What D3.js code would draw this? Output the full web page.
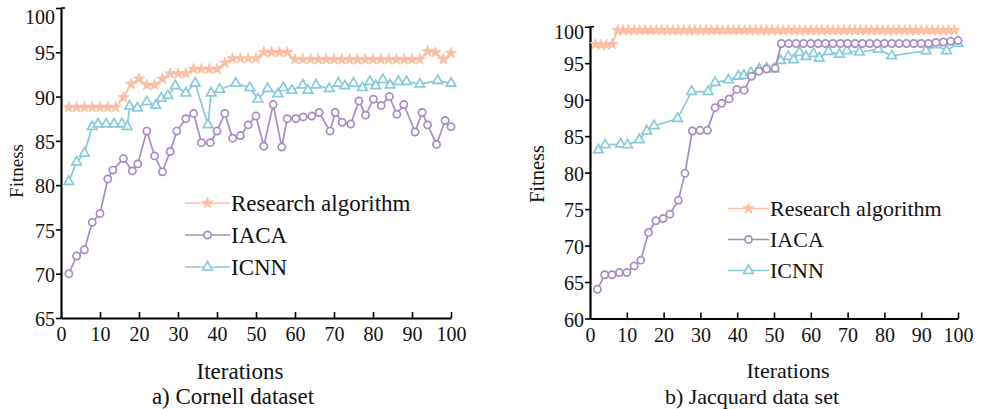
<!DOCTYPE html>
<html>
<head>
<meta charset="utf-8">
<script src="https://cdn.jsdelivr.net/npm/d3@7"></script>
<style>
  body { margin: 0; background: #fff; }
  svg { display: block; }
  text { font-family: 'Liberation Serif', 'Times New Roman', serif; fill: #111; }
</style>
</head>
<body>
<svg id="chart" width="981" height="409"></svg>
<script>
'use strict'

// ---- data ----
const seriesNames = ['Research algorithm', 'IACA', 'ICNN']
const xTicks = [0, 10, 20, 30, 40, 50, 60, 70, 80, 90, 100]
const cornellYTicks = [65, 70, 75, 80, 85, 90, 95, 100]
const jacquardYTicks = [60, 65, 70, 75, 80, 85, 90, 95, 100]
const panelTitles = ['a) Cornell dataset', 'b) Jacquard data set']

// a) Cornell
const cornellResearchX = [2, 4, 6, 8, 10, 12, 14, 16, 18, 20, 22, 24, 26, 28, 30, 32, 34, 36, 38, 40,
  42, 44, 46, 48, 50, 52, 54, 56, 58, 60, 62, 64, 66, 68, 70, 72, 74, 76, 78, 80,
  82, 84, 86, 88, 90, 92, 94, 96, 98, 100]
const cornellResearchY = [88.8, 88.8, 88.8, 88.8, 88.8, 88.8, 88.8, 89.9, 91.4, 92.0, 91.3, 91.3, 92.0, 92.6, 92.6, 92.6, 93.1, 93.1, 93.1, 93.1,
  93.8, 94.3, 94.3, 94.3, 94.3, 95.0, 95.0, 95.0, 95.0, 94.2, 94.2, 94.2, 94.2, 94.2, 94.2, 94.2, 94.2, 94.2, 94.2, 94.2,
  94.2, 94.2, 94.2, 94.2, 94.2, 94.2, 95.1, 95.0, 94.2, 94.9]
const cornellIacaX = [2, 4, 6, 8, 10, 12, 13.3, 16, 18.3, 19.7, 22, 24, 26, 28, 29.7, 32, 34, 36, 38.3, 40,
  42, 44, 46, 48, 50, 52, 54.4, 56.6, 58, 60.2, 62.1, 64.3, 66.2, 69, 70.3, 72.1, 74.3, 76.4, 78.1, 80.1,
  82.1, 84.2, 86.1, 87.9, 90.8, 92.6, 94, 96.3, 98.5, 100]
const cornellIacaY = [70.0, 72.0, 72.7, 75.8, 76.8, 80.7, 81.7, 83.0, 81.6, 82.4, 86.1, 83.3, 81.5, 83.8, 86.1, 87.5, 88.1, 84.8, 84.8, 86.1,
  88.1, 85.3, 85.6, 86.8, 87.8, 84.4, 89.1, 84.3, 87.5, 87.5, 87.7, 87.8, 88.2, 86.1, 88.2, 87.1, 86.9, 89.5, 87.9, 89.7,
  89.0, 90.0, 88.0, 89.1, 86.0, 88.2, 86.8, 84.6, 87.3, 86.6]
const cornellIcnnX = [2, 4, 6, 8, 9.5, 11.6, 13.6, 15.6, 17, 17.6, 19.6, 22, 24.3, 25.7, 27.4, 29.3, 32, 34.4, 37.7, 38.5,
  40.7, 44.8, 48.4, 50.5, 53, 55.6, 57, 59.2, 62, 63.3, 65.4, 68.8, 71.1, 72.8, 75, 77.3, 79.2, 80.7, 82.5, 84.4,
  86.5, 88.6, 92, 96.6, 100]
const cornellIcnnY = [80.4, 82.6, 83.6, 86.6, 86.9, 86.9, 86.9, 86.9, 86.6, 88.9, 88.7, 89.4, 89.0, 89.8, 90.1, 91.2, 90.4, 91.5, 86.8, 90.4,
  90.8, 91.5, 91.0, 89.7, 90.9, 90.3, 91.0, 90.7, 91.3, 90.7, 91.3, 90.9, 91.5, 91.2, 91.5, 91.0, 91.7, 91.2, 91.9, 91.3,
  91.7, 91.7, 91.4, 91.8, 91.5]

// b) Jacquard
const jacquardResearchX = [1.5, 3, 4.5, 6, 7.5, 9, 10.5, 12, 13.5, 15, 16.5, 18, 19.5, 21, 22.5, 24, 25.5, 27, 28.5, 30,
  31.5, 33, 34.5, 36, 37.5, 39, 40.5, 42, 43.5, 45, 46.5, 48, 49.5, 51, 52.5, 54, 55.5, 57, 58.5, 60,
  61.5, 63, 64.5, 66, 67.5, 69, 70.5, 72, 73.5, 75, 76.5, 78, 79.5, 81, 82.5, 84, 85.5, 87, 88.5, 90,
  91.5, 93, 94.5, 96, 97.5, 99]
const jacquardResearchY = [97.6, 97.5, 97.5, 97.6, 99.5, 99.5, 99.5, 99.5, 99.5, 99.5, 99.5, 99.5, 99.5, 99.5, 99.5, 99.5, 99.5, 99.5, 99.5, 99.5,
  99.5, 99.5, 99.5, 99.5, 99.5, 99.5, 99.5, 99.5, 99.5, 99.5, 99.5, 99.5, 99.5, 99.5, 99.5, 99.5, 99.5, 99.5, 99.5, 99.5,
  99.5, 99.5, 99.5, 99.5, 99.5, 99.5, 99.5, 99.5, 99.5, 99.5, 99.5, 99.5, 99.5, 99.5, 99.5, 99.5, 99.5, 99.5, 99.5, 99.5,
  99.5, 99.5, 99.5, 99.5, 99.5, 99.5]
const jacquardIacaX = [2, 4, 6, 8, 10, 12, 13.8, 15.9, 17.9, 19.9, 21.7, 24, 25.8, 27.8, 29.9, 31.9, 34, 35.8, 37.8, 39.9,
  41.9, 43.9, 45.9, 48, 50.3, 52, 54, 56, 58, 60, 62, 64, 66, 68, 70, 72, 74, 76, 78, 80,
  82, 84, 86, 88, 90, 92, 94, 96, 98, 100]
const jacquardIacaY = [64.0, 66.0, 66.0, 66.3, 66.3, 67.2, 68.0, 71.8, 73.4, 73.7, 74.3, 76.2, 79.9, 85.7, 85.8, 85.8, 88.9, 89.5, 90.1, 91.4,
  91.3, 93.2, 93.9, 94.2, 94.3, 97.7, 97.7, 97.7, 97.7, 97.7, 97.7, 97.7, 97.7, 97.7, 97.7, 97.7, 97.7, 97.7, 97.7, 97.7,
  97.7, 97.7, 97.7, 97.7, 97.7, 97.7, 97.85, 97.9, 98.0, 98.1]
const jacquardIcnnX = [2.3, 4.1, 8.3, 10.2, 13.4, 15.4, 17.4, 23.8, 27.6, 32.1, 34, 37.6, 40.3, 41.8, 43.7, 46, 48, 50, 51.8, 53.9,
  55.3, 56.9, 58.7, 60.7, 62.3, 64.8, 67.8, 69.8, 73.2, 78.3, 82, 91.3, 94, 96.9, 100]
const jacquardIcnnY = [83.1, 83.8, 83.9, 83.8, 84.5, 85.7, 86.4, 87.4, 91.1, 91.1, 92.35, 92.7, 93.2, 93.3, 93.7, 94.2, 94.3, 94.2, 95.35, 95.9,
  95.45, 96.45, 95.9, 96.3, 95.7, 96.6, 96.2, 96.7, 96.5, 96.9, 96.0, 96.7, 97.5, 96.7, 97.7]

// ---- styling ----
const colors = ['#fbbfa3', '#a68cc2', '#87cbd9']

const svg = d3.select('#chart')

function marker(g, i) {
  if (i === 1) {
    return g.append('circle').attr('r', 3.6)
      .attr('fill', '#fff').attr('stroke', colors[i]).attr('stroke-width', 1.7)
  }
  if (i === 2) {
    return g.append('path').attr('d', d3.symbol().type(d3.symbolTriangle).size(40)())
      .attr('fill', '#fff').attr('stroke', colors[i]).attr('stroke-width', 1.7)
  }
  return g.append('path').attr('d', d3.symbol().type(d3.symbolStar).size(40)())
    .attr('fill', colors[i]).attr('stroke', colors[i]).attr('stroke-width', 0.8)
}

function drawPanel(p) {
  const x = d3.scaleLinear().domain([0, 100]).range([p.left, p.right])
  const y = d3.scaleLinear().domain([p.yTicks[0], 100]).range([p.bottom, p.top])
  const g = svg.append('g')

  // axes
  const xa = g.append('g')
    .attr('transform', `translate(0,${p.bottom})`)
    .call(d3.axisBottom(x).tickValues(xTicks).tickSize(-6).tickPadding(9).tickSizeOuter(0))
  xa.select('.domain').attr('stroke', '#000').attr('stroke-width', 2.2)
  xa.selectAll('.tick line').attr('stroke', '#000').attr('stroke-width', 1.6)
  xa.selectAll('.tick').filter(d => d === 0).select('line').remove()
  xa.selectAll('.tick text').attr('font-size', 20).attr('fill', '#111')
    .style('font-family', "'Liberation Serif', serif")

  const ya = g.append('g')
    .attr('transform', `translate(${p.left},0)`)
    .call(d3.axisLeft(y).tickValues(p.yTicks).tickSize(5).tickPadding(1).tickSizeOuter(0))
  ya.select('.domain').attr('stroke', '#000').attr('stroke-width', 2.2)
  ya.selectAll('.tick line').attr('stroke', '#000').attr('stroke-width', 1.6)
  ya.selectAll('.tick text').attr('font-size', 20).attr('fill', '#111')
    .style('font-family', "'Liberation Serif', serif")
    .attr('dy', d => d === 100 ? `${0.32 + p.topShift / 20}em` : '0.38em')
  g.append('line') // small nub at top of y axis
    .attr('x1', p.left).attr('x2', p.left + 4)
    .attr('y1', y(100)).attr('y2', y(100))
    .attr('stroke', '#000').attr('stroke-width', 1.6)

  // series: ICNN, IACA, then research on top
  for (const i of [2, 1, 0]) {
    const pts = p.xs[i].map((v, k) => ({ x: v, y: p.ys[i][k] }))
    g.append('path').datum(pts)
      .attr('fill', 'none')
      .attr('stroke', colors[i])
      .attr('stroke-width', 1.7)
      .attr('d', d3.line().x(d => x(d.x)).y(d => y(d.y)))
    const mg = g.append('g')
    pts.forEach(d => {
      marker(mg.append('g').attr('transform', `translate(${x(d.x)},${y(d.y)})`), i)
    })
  }

  // legend
  seriesNames.forEach((name, i) => {
    const ly = p.legendY + i * p.legendGap
    const lg = g.append('g')
    lg.append('line')
      .attr('x1', p.legendX).attr('x2', p.legendX + p.legendLen)
      .attr('y1', ly).attr('y2', ly)
      .attr('stroke', colors[i]).attr('stroke-width', 1.7)
    marker(lg.append('g').attr('transform', `translate(${p.legendX + p.legendLen / 2},${ly})`), i)
    lg.append('text')
      .attr('x', p.legendX + p.legendLen + 1).attr('y', ly).attr('dy', '0.35em')
      .attr('font-size', p.labelSize)
      .text(name)
  })

  // labels
  g.append('text')
    .attr('transform', `translate(${p.fitX},${p.fitY}) rotate(-90)`)
    .attr('text-anchor', 'middle').attr('dy', '0.35em')
    .attr('font-size', p.fitSize)
    .text('Fitness')
  g.append('text')
    .attr('x', p.iterX).attr('y', p.iterY).attr('dy', '0.35em')
    .attr('text-anchor', 'middle').attr('font-size', p.labelSize)
    .text('Iterations')
  g.append('text')
    .attr('x', p.titleX).attr('y', p.titleY).attr('dy', '0.35em')
    .attr('text-anchor', 'middle').attr('font-size', p.labelSize)
    .text(p.title)
}

drawPanel({
  left: 61, right: 451, top: 8, bottom: 318, topShift: 9,
  yTicks: cornellYTicks,
  xs: [cornellResearchX, cornellIacaX, cornellIcnnX],
  ys: [cornellResearchY, cornellIacaY, cornellIcnnY],
  legendX: 185, legendY: 203, legendGap: 32, legendLen: 45, labelSize: 23,
  fitX: 16, fitY: 171, fitSize: 19,
  iterX: 240, iterY: 371, titleX: 233, titleY: 395.5, title: panelTitles[0]
})

drawPanel({
  left: 590, right: 958, top: 26.7, bottom: 318.5, topShift: 5,
  yTicks: jacquardYTicks,
  xs: [jacquardResearchX, jacquardIacaX, jacquardIcnnX],
  ys: [jacquardResearchY, jacquardIacaY, jacquardIcnnY],
  legendX: 728, legendY: 208.5, legendGap: 31, legendLen: 41, labelSize: 22,
  fitX: 537, fitY: 174, fitSize: 20.5,
  iterX: 788, iterY: 370, titleX: 752, titleY: 396, title: panelTitles[1]
})
</script>
</body>
</html>
